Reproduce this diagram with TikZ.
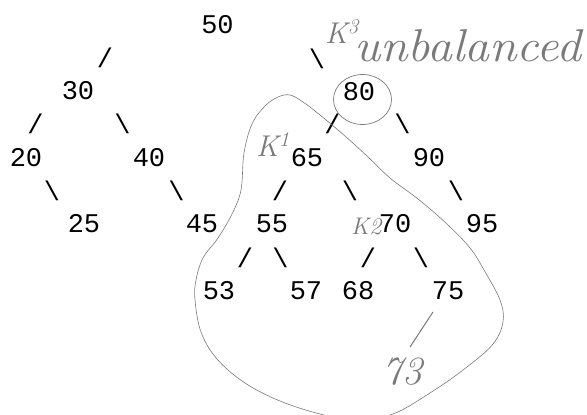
\documentclass[tikz,border=0pt]{standalone}
\usepackage{fontspec}
\usetikzlibrary{calc}
\newfontfamily\monofnt{Liberation Mono}
\newcommand\numfnt{\monofnt\fontsize{27}{27}\selectfont}
\definecolor{pencil}{HTML}{7A7A7A}
\tikzset{
  num/.style={font=\numfnt, anchor=base, inner sep=0pt},
  sl/.style={font=\numfnt, anchor=center, inner sep=0pt},
  hand/.style={text=pencil, inner sep=0pt},
  pen/.style={draw=pencil, line width=0.7pt},
}
\begin{document}
\begin{tikzpicture}[x=1pt,y=-1pt]
\useasboundingbox (0,0) rectangle (587,415);
\fill[white] (0,0) rectangle (587,415);
% numbers
\node[num] (n50) at (217.5,33) {50};
\node[num] (n30) at (78,99) {30};
\node[num] (n20) at (26,166) {20};
\node[num] (n40) at (149,166) {40};
\node[num] (n80) at (359,100) {80};
\node[num] (n65) at (307,166) {65};
\node[num] (n90) at (429,166) {90};
\node[num] (n25) at (84,232) {25};
\node[num] (n45) at (202,232) {45};
\node[num] (n55) at (272,232) {55};
\node[num] (n70) at (395,232) {70};
\node[num] (n95) at (482,232) {95};
\node[num] (n53) at (219,299) {53};
\node[num] (n57) at (306,299) {57};
\node[num] (n68) at (358,299) {68};
\node[num] (n75) at (448,299) {75};
% ascii edges
\node[sl] (s1) at (105,58) {/};
\node[sl] (s2) at (35.5,124) {/};
\node[sl] (s3) at (122.5,124) {\textbackslash};
\node[sl] (s4) at (52,191) {\textbackslash};
\node[sl] (s5) at (176.5,191) {\textbackslash};
\node[sl] (s6) at (317,59) {\textbackslash};
\node[sl] (s7) at (332.5,124) {/};
\node[sl] (s8) at (402.5,124) {\textbackslash};
\node[sl] (s9) at (280,190.5) {/};
\node[sl] (s10) at (350,190.5) {\textbackslash};
\node[sl] (s11) at (456,190.5) {\textbackslash};
\node[sl] (s12) at (245,257.5) {/};
\node[sl] (s13) at (280.5,257.5) {\textbackslash};
\node[sl] (s14) at (368,257.5) {/};
\node[sl] (s15) at (421,257.5) {\textbackslash};
% handwriting
\node[hand, anchor=base west, font=\fontsize{46}{46}\selectfont\itshape, xscale=1.08] (unb) at (354,61) {unbalanced};
\node[hand, anchor=base west, font=\fontsize{30}{30}\selectfont\itshape] (k3) at (325,43) {K\textsuperscript{3}};
\node[hand, anchor=base west, font=\fontsize{30}{30}\selectfont\itshape] (k1) at (256,156) {K\textsuperscript{1}};
\node[hand, anchor=base west, font=\fontsize{24}{24}\selectfont\itshape] (k2) at (351,234) {K2};
\node[hand, anchor=base, font=\fontsize{40}{40}\selectfont\itshape] (n73) at (402,384) {73};
\draw[pen, line width=1pt] (433,312) -- (410,347);
% circle round 80
\draw[pen] (362.5,99.5) ellipse [x radius=29, y radius=25];
% outline
\begin{scope}
\clip (0,0) rectangle (587,415);
\draw[pen, line width=0.6pt] plot[smooth cycle, tension=0.6] coordinates {
(290,95) (278,97) (265,106) (252,124) (244,153) (241,190) (232,214) (218,238)
(203,258) (196,280) (195,300) (201,332) (217,359) (245,383) (280,401) (320,414)
(355,420) (393,414) (433,391) (467,367) (493,344) (503,322) (500,300) (484,270)
(470,248) (447,224) (418,199) (390,178) (367,156) (345,136) (320,115) (303,102)};
\end{scope}
\end{tikzpicture}
\end{document}
